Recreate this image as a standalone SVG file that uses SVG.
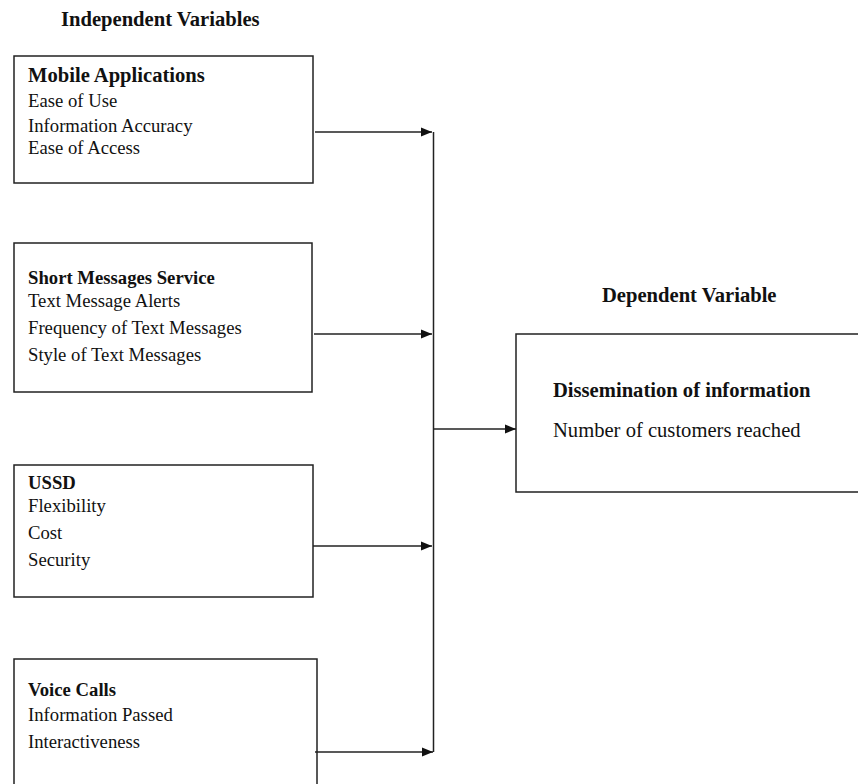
<svg xmlns="http://www.w3.org/2000/svg" width="858" height="784" viewBox="0 0 858 784">
<style>
text { font-family: "Liberation Serif", "Times New Roman", serif; font-size: 18.7px; fill: #111; }
.b { font-weight: bold; }
.lg { font-size: 20.6px; }
.box { fill: none; stroke: #222; stroke-width: 1.5; }
.con { fill: none; stroke: #222; stroke-width: 1.5; }
</style>
<defs>
<marker id="arr" viewBox="0 0 11 10" refX="11" refY="5" markerWidth="11" markerHeight="10" markerUnits="userSpaceOnUse" orient="auto">
<path d="M0,0.5 L11,5 L0,9.5 Z" fill="#111"/>
</marker>
</defs>
<text class="b lg" x="61" y="26">Independent Variables</text>
<text class="b lg" x="602" y="302">Dependent Variable</text>
<g id="mobile">
<rect class="box" x="14" y="56" width="299" height="127"/>
<text class="b lg" x="28" y="82">Mobile Applications</text>
<text x="28" y="107">Ease of Use</text>
<text x="28" y="132">Information Accuracy</text>
<text x="28" y="154">Ease of Access</text>
</g>
<g id="sms">
<rect class="box" x="14" y="243" width="298" height="149"/>
<text class="b" x="28" y="284">Short Messages Service</text>
<text x="28" y="307">Text Message Alerts</text>
<text x="28" y="334">Frequency of Text Messages</text>
<text x="28" y="361">Style of Text Messages</text>
</g>
<g id="ussd">
<rect class="box" x="14" y="465" width="299" height="132"/>
<text class="b" x="28" y="489">USSD</text>
<text x="28" y="512">Flexibility</text>
<text x="28" y="539">Cost</text>
<text x="28" y="566">Security</text>
</g>
<g id="voice">
<path class="box" d="M14,790 V659 H317 V790"/>
<text class="b" x="28" y="696">Voice Calls</text>
<text x="28" y="721">Information Passed</text>
<text x="28" y="748">Interactiveness</text>
</g>
<g id="dissemination">
<path class="box" d="M860,334 H516 V492 H860"/>
<text class="b lg" x="553" y="397">Dissemination of information</text>
<text class="lg" x="553" y="437">Number of customers reached</text>
</g>
<g id="connectors">
<line class="con" x1="315" y1="132" x2="432" y2="132" marker-end="url(#arr)"/>
<line class="con" x1="314" y1="334" x2="432" y2="334" marker-end="url(#arr)"/>
<line class="con" x1="313" y1="546" x2="432" y2="546" marker-end="url(#arr)"/>
<line class="con" x1="315" y1="752" x2="433" y2="752" marker-end="url(#arr)"/>
<line class="con" x1="433.5" y1="132" x2="433.5" y2="752"/>
<line class="con" x1="433" y1="429" x2="516" y2="429" marker-end="url(#arr)"/>
</g>
</svg>
